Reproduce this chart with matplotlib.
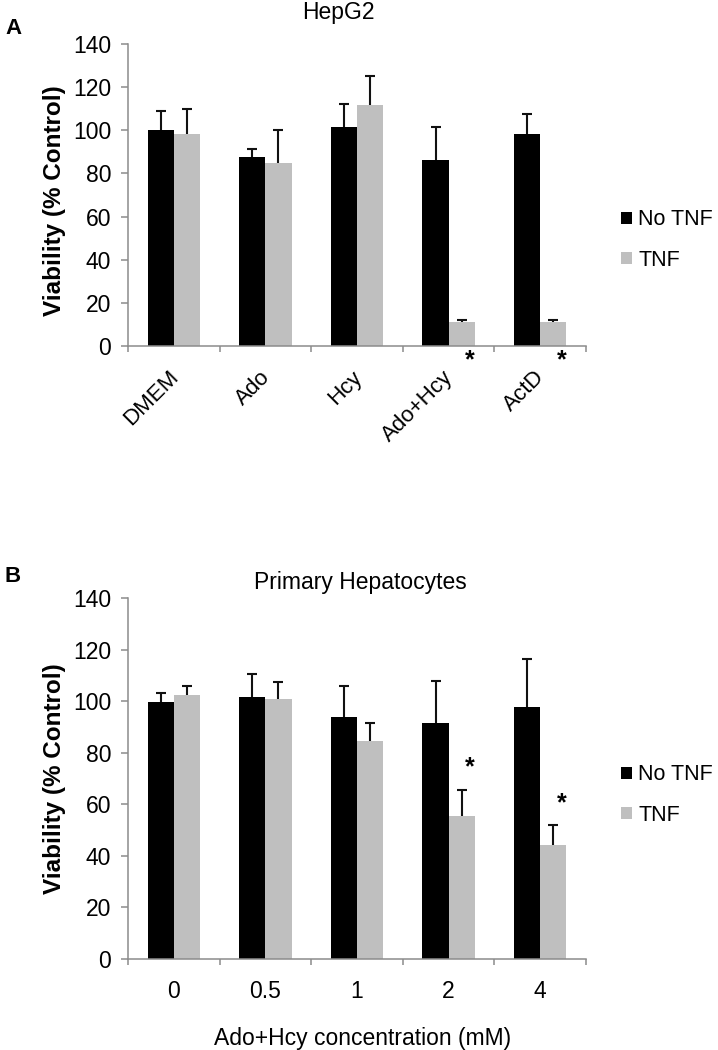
import numpy as np
import matplotlib
matplotlib.use("Agg")
import matplotlib.pyplot as plt
from matplotlib.transforms import ScaledTranslation

plt.rcParams['font.family'] = ['Liberation Sans', 'DejaVu Sans']

# ---- data ----
series_names = ["No TNF", "TNF"]

hepg2_categories = ["DMEM", "Ado", "Hcy", "Ado+Hcy", "ActD"]
hepg2_no_tnf = [100.0, 87.5, 101.5, 86.3, 98.4]
hepg2_no_tnf_err = [9.1, 3.6, 10.8, 15.4, 9.2]
hepg2_tnf = [98.4, 84.7, 111.6, 11.1, 11.1]
hepg2_tnf_err = [11.3, 15.4, 13.6, 1.0, 1.1]
hepg2_signif = [False, False, False, True, True]

prim_categories = ["0", "0.5", "1", "2", "4"]
prim_no_tnf = [99.8, 101.6, 93.7, 91.7, 97.6]
prim_no_tnf_err = [3.5, 9.1, 12.3, 16.1, 18.7]
prim_tnf = [102.4, 100.7, 84.4, 55.5, 44.2]
prim_tnf_err = [3.3, 6.8, 7.0, 10.2, 7.6]
prim_signif = [False, False, False, True, True]

y_ticks = [0, 20, 40, 60, 80, 100, 120, 140]

BLACK = "#000000"
GREY = "#bfbfbf"
SPINE = "#8c8c8c"
FS = 16.5

W, H = 718, 1050
fig = plt.figure(figsize=(W / 100, H / 100), dpi=100)

def px_axes(left, top, right, bottom):
    return fig.add_axes([left / W, 1 - bottom / H, (right - left) / W, (bottom - top) / H])

axA = px_axes(128, 44, 586, 346)
axB = px_axes(128, 598, 586, 959)

bw = 0.285

def draw_panel(ax, cats, m0, e0, m1, e1):
    x = np.arange(len(cats)) + 0.5
    b0 = ax.bar(x - bw / 2, m0, width=bw, color=BLACK, label=series_names[0], zorder=2)
    b1 = ax.bar(x + bw / 2, m1, width=bw, color=GREY, label=series_names[1], zorder=2)
    for xs, m, e in ((x - bw / 2, m0, e0), (x + bw / 2, m1, e1)):
        cont = ax.errorbar(xs, m, yerr=[np.zeros(len(m)), e], fmt='none', ecolor='#111111',
                           elinewidth=1.5, capsize=3.9, capthick=1.5, zorder=3)
        caps = cont[1]
        if len(caps) > 0:
            caps[0].set_visible(False)
    ax.set_xlim(0, len(cats))
    ax.set_ylim(0, 140)
    ax.set_yticks(y_ticks)
    ax.set_xticks(np.arange(len(cats) + 1))
    ax.set_xticklabels([])
    ax.set_xticks(x, minor=True)
    for s in ("top", "right"):
        ax.spines[s].set_visible(False)
    for s in ("left", "bottom"):
        ax.spines[s].set_color(SPINE)
        ax.spines[s].set_linewidth(1.1)
    ax.tick_params(axis='y', which='major', length=5, width=1.1, color=SPINE, labelsize=FS, pad=7)
    ax.tick_params(axis='x', which='major', length=4, width=1.1, color=SPINE, direction='out')
    ax.tick_params(axis='x', which='minor', length=0, labelsize=FS)
    ax.set_ylabel("Viability (% Control)", fontsize=17.5, fontweight='bold')
    return x, b0, b1

# Panel A
xA, a0, a1 = draw_panel(axA, hepg2_categories, hepg2_no_tnf, hepg2_no_tnf_err, hepg2_tnf, hepg2_tnf_err)
axA.set_xticklabels(hepg2_categories, minor=True, rotation=45, ha='right', va='top', fontsize=16)
axA.tick_params(axis='x', which='minor', pad=15)
off = ScaledTranslation(9 / 100, 0, fig.dpi_scale_trans)
for lab in axA.get_xticklabels(minor=True):
    lab.set_transform(lab.get_transform() + off)
axA.yaxis.set_label_coords(-0.16, 0.483)
axA.yaxis.label.set_va('center')
for xi, s in zip(xA, hepg2_signif):
    if s:
        axA.text(xi + bw / 2 + 0.09, -6.5, "*", ha='center', va='center', fontsize=18,
                 fontweight='bold', clip_on=False)

# Panel B
xB, p0, p1 = draw_panel(axB, prim_categories, prim_no_tnf, prim_no_tnf_err, prim_tnf, prim_tnf_err)
axB.set_xticklabels(prim_categories, minor=True)
axB.tick_params(axis='x', which='minor', pad=15)
axB.set_xlabel("Ado+Hcy concentration (mM)", fontsize=FS)
axB.xaxis.set_label_coords(0.513, -0.219)
axB.xaxis.label.set_va('center')
axB.yaxis.set_label_coords(-0.16, 0.5)
axB.yaxis.label.set_va('center')
for xi, s, m, e in zip(xB, prim_signif, prim_tnf, prim_tnf_err):
    if s:
        axB.text(xi + bw / 2 + 0.09, m + e + 8.5, "*", ha='center', va='center', fontsize=18,
                 fontweight='bold')

# Legends
for ax, ycen in ((axA, 240), (axB, 795)):
    ax.legend(loc='center left', bbox_to_anchor=(621 / W, 1 - ycen / H),
              bbox_transform=fig.transFigure, frameon=False, fontsize=15.5,
              handlelength=0.5, handleheight=0.5, handletextpad=0.3,
              labelspacing=0.9, borderpad=0, borderaxespad=0)

# Titles and panel letters
fig.text(338 / W, 1 - 13 / H, "HepG2", ha='center', va='center', fontsize=FS)
fig.text(360 / W, 1 - 582 / H, "Primary Hepatocytes", ha='center', va='center', fontsize=FS)
fig.text(5 / W, 1 - 29 / H, "A", ha='left', va='center', fontsize=16, fontweight='bold')
fig.text(5 / W, 1 - 576 / H, "B", ha='left', va='center', fontsize=16, fontweight='bold')

fig.savefig("out.png", dpi=100)
